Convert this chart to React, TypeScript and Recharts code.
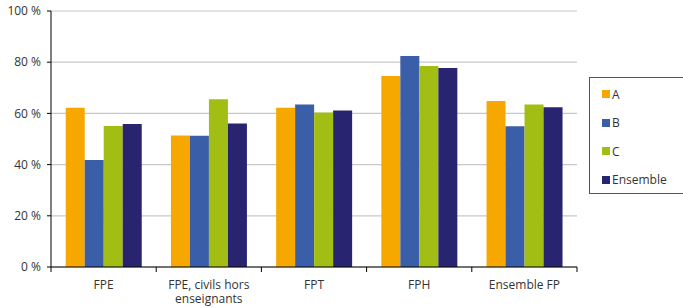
import { BarChart, Bar, XAxis, YAxis, CartesianGrid, Legend } from "recharts";

const categories = ["FPE", "FPE, civils hors enseignants", "FPT", "FPH", "Ensemble FP"];
const categoryLines = [["FPE"], ["FPE, civils hors", "enseignants"], ["FPT"], ["FPH"], ["Ensemble FP"]];
const seriesA = [62.2, 51.4, 62.2, 74.6, 64.8];
const seriesB = [41.8, 51.3, 63.5, 82.4, 55.0];
const seriesC = [55.1, 65.5, 60.4, 78.5, 63.5];
const seriesEnsemble = [55.9, 56.1, 61.1, 77.7, 62.4];
const yTicks = [0, 20, 40, 60, 80, 100];

const series = [
  { key: "A", values: seriesA, color: "#F7A800" },
  { key: "B", values: seriesB, color: "#3A5FA8" },
  { key: "C", values: seriesC, color: "#A2BE14" },
  { key: "Ensemble", values: seriesEnsemble, color: "#28246F" },
];

const data = categories.map((name, i) => {
  const row: Record<string, string | number> = { name };
  series.forEach((s) => (row[s.key] = s.values[i]));
  return row;
});

const W = 683;
const H = 308;
const LEFT = 51;
const RIGHT = 106;
const PLOT_W = W - LEFT - RIGHT;
const FONT = "'Open Sans', 'Noto Sans', sans-serif";

const XTick = (props: any) => {
  const { x, y, index, payload } = props;
  const band = PLOT_W / categories.length;
  const top = y - 5;
  const lines = categoryLines[index] ?? [payload.value];
  return (
    <g>
      <line x1={x - band / 2} y1={top} x2={x - band / 2} y2={top + 5} stroke="#000" />
      {index === categories.length - 1 && (
        <line x1={x + band / 2} y1={top} x2={x + band / 2} y2={top + 5} stroke="#000" />
      )}
      <text x={x} y={y} textAnchor="middle" fontSize={12} fill="#333" fontFamily={FONT}>
        {lines.map((l: string, i: number) => (
          <tspan key={i} x={x} dy={i === 0 ? 17 : 14}>
            {l}
          </tspan>
        ))}
      </text>
    </g>
  );
};

const LegendBox = () => (
  <div
    style={{
      border: "1px solid #555",
      borderRight: "none",
      width: 94,
      height: 117,
      boxSizing: "border-box",
      padding: "2px 0 0 12px",
      fontFamily: FONT,
      fontSize: 12,
      color: "#333",
      background: "#fff",
    }}
  >
    {series.map((s) => (
      <div key={s.key} style={{ display: "flex", alignItems: "center", height: 28.5 }}>
        <span style={{ width: 8, height: 8, background: s.color, marginRight: 2 }} />
        <span>{s.key}</span>
      </div>
    ))}
  </div>
);

export default function App() {
  return (
    <div style={{ position: "absolute", left: 0, top: 0, width: W, height: H, background: "#fff" }}>
      <BarChart
        width={W}
        height={H}
        data={data}
        margin={{ top: 11, right: RIGHT, bottom: 0, left: 0 }}
        barCategoryGap="14%"
        barGap={0}
      >
        <CartesianGrid vertical={false} stroke="#c8c8c8" strokeWidth={1.2} />
        <XAxis
          dataKey="name"
          height={41}
          axisLine={{ stroke: "#000" }}
          tickLine={false}
          tickSize={5}
          tickMargin={0}
          interval={0}
          tick={<XTick />}
        />
        <YAxis
          width={LEFT}
          domain={[0, 100]}
          ticks={yTicks}
          interval={0}
          tickFormatter={(v) => `${v} %`}
          axisLine={{ stroke: "#000" }}
          tickLine={{ stroke: "#000" }}
          tickSize={4}
          tickMargin={6}
          tick={{ fontSize: 12, fill: "#333", fontFamily: FONT }}
        />
        <Legend
          layout="horizontal"
          verticalAlign="middle"
          align="center"
          content={<LegendBox />}
          wrapperStyle={{ position: "absolute", left: 589, top: 77, width: 94 }}
        />
        {series.map((s) => (
          <Bar key={s.key} dataKey={s.key} fill={s.color} isAnimationActive={false} />
        ))}
      </BarChart>
    </div>
  );
}
